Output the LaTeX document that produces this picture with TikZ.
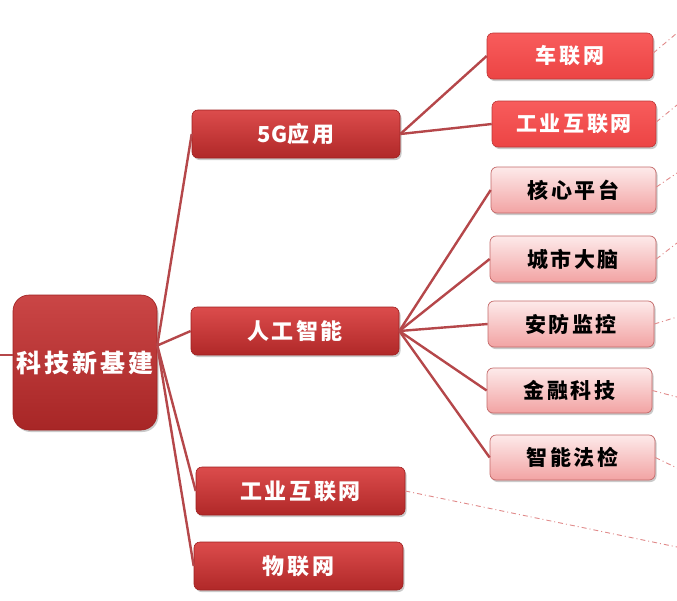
\documentclass[tikz,border=0pt]{standalone}
\usepackage{fontspec}
\newfontfamily\cjk[LetterSpace=12]{Noto Sans CJK SC}
\newfontfamily\cjktight{Noto Sans CJK SC}
\usetikzlibrary{shadows,calc}
\definecolor{lnk}{HTML}{B5474A}
\definecolor{dsh}{HTML}{E08A8A}
\definecolor{rtop}{HTML}{DC4C4C}
\definecolor{rbot}{HTML}{B02828}
\definecolor{rbd}{HTML}{9E2020}
\definecolor{btop}{HTML}{F85C5C}
\definecolor{bbot}{HTML}{EC4444}
\definecolor{ptop}{HTML}{FDEAEA}
\definecolor{pbot}{HTML}{F2A3A3}
\definecolor{pbd}{HTML}{C46868}
\tikzset{
  base/.style={rounded corners=6pt, inner sep=0pt, font=\cjk\bfseries\fontsize{21}{24}\selectfont,
    drop shadow={shadow xshift=1.5pt, shadow yshift=-2pt, opacity=0.35, fill=black!60}},
  rootbox/.style={base, rounded corners=16pt, draw=rbd, line width=0.6pt, top color=rtop!92!black, bottom color=rbot!95!black,
    text=white, minimum width=144pt, minimum height=135pt, font=\cjk\bfseries\fontsize{25}{30}\selectfont},
  lvone/.style={base, draw=rbd, line width=0.6pt, top color=rtop, bottom color=rbot, text=white,
    minimum width=208pt, minimum height=48pt, font=\cjk\bfseries\fontsize{22}{26}\selectfont},
  brightbox/.style={base, draw=bbot!80!black, line width=0.6pt, top color=btop, bottom color=bbot, text=white,
    minimum width=165pt, minimum height=46pt},
  pinkbox/.style={base, draw=pbd, line width=0.7pt, top color=ptop, bottom color=pbot, text=black,
    minimum width=165pt, minimum height=45pt},
  link/.style={draw=lnk, line width=2.4pt},
  dlink/.style={draw=dsh, line width=0.9pt, dash pattern=on 5pt off 3pt on 1pt off 3pt}
}
\begin{document}
\begin{tikzpicture}[x=1pt,y=-1pt]
\useasboundingbox (0,0) rectangle (677,600);
% nodes
\node[rootbox] (root) at (85,362.5) {科技新基建};
\node[lvone] (g5) at (296,134) {{\cjktight 5G}应用};
\node[lvone] (ai) at (295,331) {人工智能};
\node[lvone, minimum width=209pt] (iiot) at (300.5,491) {工业互联网};
\node[lvone, minimum width=209pt] (iot) at (298.5,566) {物联网};
\node[brightbox, minimum width=166pt] (car) at (570,56) {车联网};
\node[brightbox, minimum width=164pt] (ind) at (574,124) {工业互联网};
\node[pinkbox, minimum height=46pt] (core) at (573.5,190) {核心平台};
\node[pinkbox, minimum height=46pt, minimum width=166pt] (brain) at (573,259) {城市大脑};
\node[pinkbox, minimum height=46pt, minimum width=166pt] (sec) at (571,324) {安防监控};
\node[pinkbox] (fin) at (569.5,390.5) {金融科技};
\node[pinkbox] (law) at (572.5,457.5) {智能法检};
% coordinates
\coordinate (lft) at (0,355);
\coordinate (rout) at ($(root.east)+(0,-17)$);
\coordinate (e1) at (677,33);
\coordinate (e2) at (677,105);
\coordinate (e3) at (677,173);
\coordinate (e4) at (677,243);
\coordinate (e5) at (677,317);
\coordinate (e6) at (677,397);
\coordinate (e7) at (677,468);
\coordinate (e8) at (677,547);
% connectors
\draw[link] (lft) -- (root.west |- lft);
\draw[link] (rout) -- (g5.west);
\draw[link] (rout) -- (ai.west);
\draw[link] (rout) -- (iiot.west);
\draw[link] (rout) -- (iot.west);
\draw[link] (g5.east) -- (car.west);
\draw[link] (g5.east) -- (ind.west);
\draw[link] (ai.east) -- (core.west);
\draw[link] (ai.east) -- (brain.west);
\draw[link] (ai.east) -- (sec.west);
\draw[link] (ai.east) -- (fin.west);
\draw[link] (ai.east) -- (law.west);
\draw[dlink] ($(car.east)+(0,-3)$) -- (e1);
\draw[dlink] ($(ind.east)+(0,-2)$) -- (e2);
\draw[dlink] ($(core.east)+(0,-3)$) -- (e3);
\draw[dlink] (brain.east) -- (e4);
\draw[dlink] (sec.east) -- (e5);
\draw[dlink] (fin.east) -- (e6);
\draw[dlink] (law.east) -- (e7);
\draw[dlink] (iiot.east) -- (e8);
\end{tikzpicture}
\end{document}
